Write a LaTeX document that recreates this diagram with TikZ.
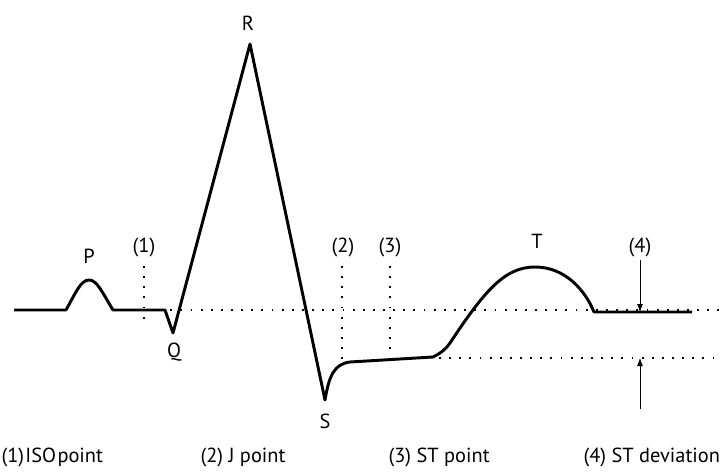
\documentclass[tikz,border=0pt]{standalone}
\usepackage{fontspec}
\setmainfont{PT Sans}
\usepackage{tikz}
\usetikzlibrary{
  arrows.meta,
  positioning,
  calc
}

\begin{document}
\begin{tikzpicture}
  [
    x=0.75pt, y=-0.75pt,
    every node/.style={font=\fontsize{15.3}{18}\selectfont, inner sep=1pt},
    wave/.style={line width=2.2pt, line join=round, line cap=butt},
    guide/.style={line width=1.4pt, dash pattern=on 1.4pt off 6.2pt},
    marker/.style={line width=0.6pt, -{Latex[length=6pt,width=4.5pt]}},
  ]
  \useasboundingbox (0,0) rectangle (722,475);
  % \draw[help lines] grid(722,475);

  % points of the trace
  \coordinate (start) at (14,310);
  \coordinate (pon) at (66,310);
  \coordinate (ppeak) at (89,280);
  \coordinate (poff) at (113,310);
  \coordinate (qon) at (165,310);
  \coordinate (qpeak) at (173,333);
  \coordinate (rpeak) at (250,44);
  \coordinate (speak) at (325,400);
  \coordinate (jpt) at (350,362);
  \coordinate (ston) at (433,357);
  \coordinate (tpeak) at (535,267);
  \coordinate (toff) at (594,312);
  \coordinate (stop) at (692,312);

  % trace
  \draw[wave] (start) -- (pon)
    .. controls (76,292) and (81,280) .. (ppeak)
    .. controls (97,280) and (102,292) .. (poff)
    -- (qon) -- (qpeak) -- (rpeak) -- (speak)
    .. controls (329,376) and (334,364) .. (jpt)
    -- (ston)
    .. controls (441,353) and (446,349) .. (450,343)
    .. controls (485,290) and (505,267) .. (tpeak)
    .. controls (565,267) and (585,290) .. (toff)
    -- (stop);

  % wave labels
  \node (P) at (89,256) {P};
  \node (Q) at (174,352) {Q};
  \node (R) at (248,23) {R};
  \node (S) at (325,421) {S};
  \node (T) at (537,241) {T};

  % point labels
  \node (iso) at (144,247) {(1)};
  \node (j) at (343,247) {(2)};
  \node (st) at (390,247) {(3)};
  \node (dev) at (640,247) {(4)};

  % guide lines
  \draw[guide] (150,310) -- (722,310);
  \draw[guide] (ston) ++(6,1) -- (722,358);
  \draw[guide] (144,266) -- (144,324);
  \draw[guide] (342,266) -- (342,362);
  \draw[guide] (390,266) -- (390,356);

  % deviation arrows
  \coordinate (devtop) at (640,260);
  \coordinate (devbot) at (640,409);
  \draw[marker] (devtop) -- (640,312);
  \draw[marker] (devbot) -- (640,358);

  % legend
  \node[anchor=west] (lg1) at (0,457) {(1)\kern1pt ISO\kern1pt point};
  \node[anchor=west] (lg2) at (199,457) {(2) J point};
  \node[anchor=west] (lg3) at (387,457) {(3) ST point};
  \node[anchor=west] (lg4) at (582,457) {(4) ST deviation};
\end{tikzpicture}
\end{document}
